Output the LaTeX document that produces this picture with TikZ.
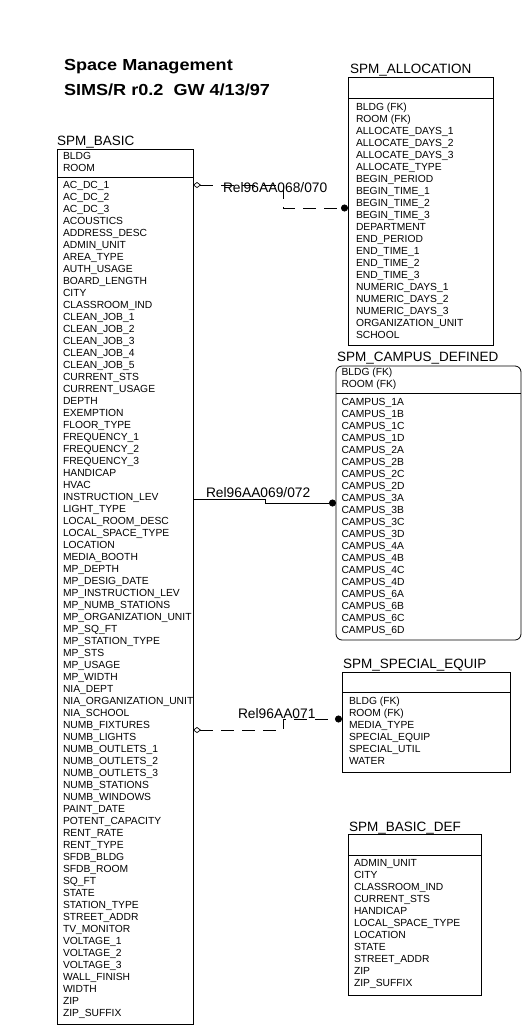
\documentclass[tikz,border=0pt]{standalone}
\usepackage{fontspec}
\setmainfont{Liberation Sans}
\newfontfamily\hdrfont[FakeStretch=1.13]{Liberation Sans Bold}
\usetikzlibrary{arrows.meta}

\tikzset{
  every node/.style={inner sep=0pt, outer sep=0pt},
  ebox/.style={draw, line width=0.8pt, anchor=north west},
  etitle/.style={anchor=base west, font=\fontsize{13.5}{16}\selectfont},
  attr/.style={anchor=base west, font=\fontsize{10.3}{12}\selectfont},
  rlabel/.style={anchor=base west, font=\fontsize{13.8}{16}\selectfont},
  hdr/.style={anchor=base west, font=\hdrfont\fontsize{16}{19}\selectfont},
  sepline/.style={line width=0.8pt},
  rel/.style={line width=0.8pt},
  reldash/.style={rel, dash pattern=on 13pt off 8pt},
  dottip/.tip={Circle[length=7pt]},
  diatip/.tip={Diamond[open,length=8pt,width=6pt,line width=0.7pt]},
}
\newcommand\attrrows[4]{%
  \foreach \t [count=\i] in {#4} {\node[attr] (#1-\i) at (#2, {#3+12*(\i-1)}) {\t};}}

\begin{document}
\begin{tikzpicture}[x=1pt, y=-1pt]
\useasboundingbox (0,0) rectangle (523,1026);

% header
\node[hdr] (h1) at (64,70.7) {Space Management};
\node[hdr] (h2) at (64,95) {SIMS/R r0.2\ \ GW 4/13/97};

% SPM_BASIC
\node[etitle] (basic-t) at (57,145) {SPM\_BASIC};
\node[ebox, minimum width=136pt, minimum height=875pt] (basic) at (57,149) {};
\draw[sepline] (basic.west |- 0,177) -- (basic.east |- 0,177);
\attrrows{basic-k}{63}{159.2}{BLDG,ROOM}
\attrrows{basic-a}{63}{188.7}{AC\_DC\_1,AC\_DC\_2,AC\_DC\_3,ACOUSTICS,ADDRESS\_DESC,ADMIN\_UNIT,AREA\_TYPE,AUTH\_USAGE,BOARD\_LENGTH,CITY,CLASSROOM\_IND,CLEAN\_JOB\_1,CLEAN\_JOB\_2,CLEAN\_JOB\_3,CLEAN\_JOB\_4,CLEAN\_JOB\_5,CURRENT\_STS,CURRENT\_USAGE,DEPTH,EXEMPTION,FLOOR\_TYPE,FREQUENCY\_1,FREQUENCY\_2,FREQUENCY\_3,HANDICAP,HVAC,INSTRUCTION\_LEV,LIGHT\_TYPE,LOCAL\_ROOM\_DESC,LOCAL\_SPACE\_TYPE,LOCATION,MEDIA\_BOOTH,MP\_DEPTH,MP\_DESIG\_DATE,MP\_INSTRUCTION\_LEV,MP\_NUMB\_STATIONS,MP\_ORGANIZATION\_UNIT,MP\_SQ\_FT,MP\_STATION\_TYPE,MP\_STS,MP\_USAGE,MP\_WIDTH,NIA\_DEPT,NIA\_ORGANIZATION\_UNIT,NIA\_SCHOOL,NUMB\_FIXTURES,NUMB\_LIGHTS,NUMB\_OUTLETS\_1,NUMB\_OUTLETS\_2,NUMB\_OUTLETS\_3,NUMB\_STATIONS,NUMB\_WINDOWS,PAINT\_DATE,POTENT\_CAPACITY,RENT\_RATE,RENT\_TYPE,SFDB\_BLDG,SFDB\_ROOM,SQ\_FT,STATE,STATION\_TYPE,STREET\_ADDR,TV\_MONITOR,VOLTAGE\_1,VOLTAGE\_2,VOLTAGE\_3,WALL\_FINISH,WIDTH,ZIP,ZIP\_SUFFIX}

% SPM_ALLOCATION
\node[etitle] (alloc-t) at (350,73) {SPM\_ALLOCATION};
\node[ebox, minimum width=145pt, minimum height=267.5pt] (alloc) at (348,77.5) {};
\draw[sepline] (alloc.west |- 0,98) -- (alloc.east |- 0,98);
\attrrows{alloc-a}{356}{110.4}{BLDG (FK),ROOM (FK),ALLOCATE\_DAYS\_1,ALLOCATE\_DAYS\_2,ALLOCATE\_DAYS\_3,ALLOCATE\_TYPE,BEGIN\_PERIOD,BEGIN\_TIME\_1,BEGIN\_TIME\_2,BEGIN\_TIME\_3,DEPARTMENT,END\_PERIOD,END\_TIME\_1,END\_TIME\_2,END\_TIME\_3,NUMERIC\_DAYS\_1,NUMERIC\_DAYS\_2,NUMERIC\_DAYS\_3,ORGANIZATION\_UNIT,SCHOOL}

% SPM_CAMPUS_DEFINED
\node[etitle] (campus-t) at (337,361) {SPM\_CAMPUS\_DEFINED};
\node[ebox, rounded corners=6pt, minimum width=185pt, minimum height=274pt] (campus) at (336,366) {};
\draw[sepline] (campus.west |- 0,393.5) -- (campus.east |- 0,393.5);
\attrrows{campus-k}{341.5}{375.7}{BLDG (FK),ROOM (FK)}
\attrrows{campus-a}{341.5}{405.4}{CAMPUS\_1A,CAMPUS\_1B,CAMPUS\_1C,CAMPUS\_1D,CAMPUS\_2A,CAMPUS\_2B,CAMPUS\_2C,CAMPUS\_2D,CAMPUS\_3A,CAMPUS\_3B,CAMPUS\_3C,CAMPUS\_3D,CAMPUS\_4A,CAMPUS\_4B,CAMPUS\_4C,CAMPUS\_4D,CAMPUS\_6A,CAMPUS\_6B,CAMPUS\_6C,CAMPUS\_6D}

% SPM_SPECIAL_EQUIP
\node[etitle] (equip-t) at (343,668) {SPM\_SPECIAL\_EQUIP};
\node[ebox, minimum width=168pt, minimum height=100pt] (equip) at (342,672) {};
\draw[sepline] (equip.west |- 0,692) -- (equip.east |- 0,692);
\attrrows{equip-a}{349}{704.7}{BLDG (FK),ROOM (FK),MEDIA\_TYPE,SPECIAL\_EQUIP,SPECIAL\_UTIL,WATER}

% SPM_BASIC_DEF
\node[etitle] (bdef-t) at (349,831.5) {SPM\_BASIC\_DEF};
\node[ebox, minimum width=133pt, minimum height=161pt] (bdef) at (348,834) {};
\draw[sepline] (bdef.west |- 0,855) -- (bdef.east |- 0,855);
\attrrows{bdef-a}{354}{866.7}{ADMIN\_UNIT,CITY,CLASSROOM\_IND,CURRENT\_STS,HANDICAP,LOCAL\_SPACE\_TYPE,LOCATION,STATE,STREET\_ADDR,ZIP,ZIP\_SUFFIX}

% relationships
\draw[reldash, diatip-dottip]
  (basic.east |- 0,185) -- (283,185) -- (283,208) -- (alloc.west |- 0,208);
\node[rlabel] (r1) at (223,192.5) {Rel96AA068/070};

\draw[rel, -dottip]
  (basic.east |- 0,499) -- (265,499) -- (265,503) -- (campus.west |- 0,503);
\node[rlabel] (r2) at (206,497) {Rel96AA069/072};

\draw[reldash, diatip-dottip]
  (basic.east |- 0,730) -- (283,730) -- (283,719) -- (equip.west |- 0,719);
\node[rlabel] (r3) at (238,718) {Rel96AA071};
\end{tikzpicture}
\end{document}
